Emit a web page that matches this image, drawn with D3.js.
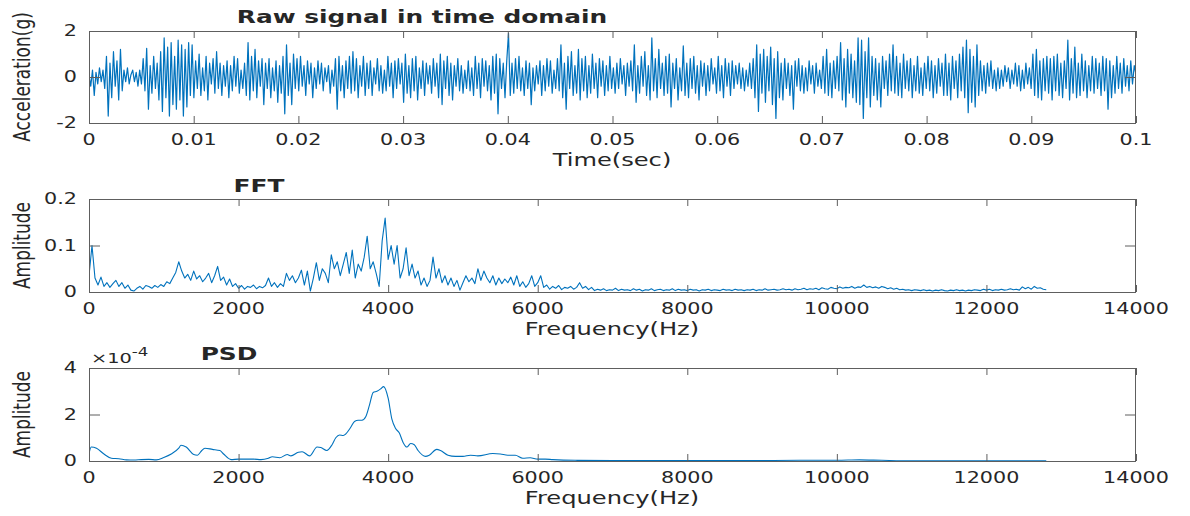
<!DOCTYPE html>
<html>
<head>
<meta charset="utf-8">
<script src="https://cdn.jsdelivr.net/npm/d3@7"></script>
<style>
  body { margin: 0; background: #fff; }
  svg { display: block; }
  text { font-family: "DejaVu Sans", sans-serif; fill: #262626; }
</style>
</head>
<body>
<svg id="chart" width="1190" height="516"></svg>
<script>
// ---- Raw acceleration signal, 0 .. 0.1 s (g) ----
const rawDuration = 0.1;
const rawSignal = [
  0.1,-0.4,0.3,-0.8,0.2,-0.3,0.4,-0.2,0.3,-0.5,
  0.9,-1.7,0.6,-0.9,1.1,-0.4,0.7,-1.0,1.2,-0.6,
  0.3,-0.2,0.4,-0.3,0.1,0.3,-0.2,0.2,-0.4,0.3,
  -0.3,0.8,-0.6,1.25,-1.4,0.5,-0.7,0.9,-0.5,0.6,
  -1.0,1.1,-1.5,1.7,-0.9,1.3,-1.7,1.5,-1.2,0.9,
  -1.4,1.6,-1.0,1.4,-1.7,1.2,-1.3,1.5,-0.8,1.4,
  -0.9,0.7,-0.5,1.0,-0.8,0.4,-0.6,0.9,-1.0,0.6,
  -0.3,0.8,-0.7,1.1,-0.5,0.6,-0.8,0.5,-0.4,0.7,
  -0.9,0.5,-0.6,0.9,-0.4,0.8,-0.7,0.3,-0.5,0.6,
  -0.8,1.5,-1.0,0.9,-0.6,1.2,-0.9,0.7,-0.4,0.8,
  -1.2,0.6,-0.5,0.8,-0.9,0.4,-0.6,0.7,-1.1,0.5,
  -0.7,0.9,-1.6,1.4,-0.8,0.6,-1.2,1.0,-0.5,0.8,
  -0.6,0.9,-0.4,0.5,-0.8,0.7,-0.3,0.6,-0.9,0.4,
  -0.5,0.7,-0.3,0.6,-0.6,0.4,-0.2,0.5,-0.7,0.3,
  -0.4,0.8,-1.4,0.9,-0.6,0.5,-0.9,0.7,-0.5,0.9,
  -0.7,1.1,-0.6,0.8,-0.9,0.5,-0.4,0.9,-0.8,0.6,
  -0.5,0.7,-0.8,0.4,-0.3,0.8,-0.6,0.5,-0.7,0.3,
  -0.6,0.9,-0.4,0.6,-0.9,0.7,-0.5,0.8,-0.3,0.6,
  -1.1,1.0,-0.7,0.5,-0.9,0.8,-0.6,0.9,-1.0,0.4,
  -0.5,0.7,-0.8,0.6,-0.3,0.5,-0.7,0.8,-0.4,0.6,
  -0.9,1.0,-1.2,0.7,-0.5,0.9,-0.8,0.6,-1.0,0.5,
  -0.4,0.8,-0.6,0.5,-0.7,0.3,-0.5,0.7,-0.6,0.4,
  -0.8,0.9,-0.5,0.6,-0.9,0.8,-0.4,0.7,-0.6,0.5,
  -1.0,0.9,-0.7,1.0,-1.6,0.8,-0.5,0.6,-0.9,0.7,
  1.9,-0.8,0.6,-0.7,0.8,-0.5,0.9,-0.6,0.4,-0.8,
  0.7,-0.5,0.6,-1.2,0.4,-0.6,0.5,-0.3,0.7,-0.8,
  0.5,-0.6,0.8,-0.4,0.7,-0.7,0.3,-0.5,0.8,-0.6,
  1.4,-0.9,0.6,-1.4,0.9,-0.5,1.1,-0.8,0.5,-0.7,
  1.2,-1.0,0.8,-0.6,0.9,-0.9,0.5,-0.7,1.0,-0.5,
  0.6,-0.9,0.8,-0.4,0.7,-0.8,0.5,-0.6,0.9,-0.5,
  0.4,-0.7,0.6,-0.5,0.8,-0.3,0.5,-0.8,0.6,-0.4,
  0.7,-0.6,1.4,-1.1,0.5,-0.7,0.9,-0.4,1.1,-0.8,
  0.5,-1.0,1.7,-0.6,0.8,-0.9,1.2,-0.5,0.6,-0.8,
  0.9,-0.7,1.0,-1.3,0.6,-0.5,0.8,-1.0,0.4,-0.6,
  1.35,-0.8,0.6,-0.9,0.8,-0.5,0.9,-0.7,0.5,-1.0,
  0.7,-0.4,0.6,-0.8,0.5,-0.6,0.8,-0.3,0.4,-0.7,
  0.9,-0.6,0.5,-0.9,0.8,-0.4,0.6,-0.8,0.7,-0.5,
  0.5,-0.3,0.6,-0.5,0.4,-0.6,0.3,-0.4,0.6,-0.5,
  0.8,-0.9,1.4,-1.5,1.0,-0.7,1.2,-1.1,0.9,-0.6,
  1.3,-1.2,0.8,-1.8,1.1,-0.9,0.6,-1.0,0.8,-0.5,
  0.6,-0.8,0.5,-1.4,0.7,-0.4,0.8,-0.6,0.5,-0.7,
  0.4,-0.6,0.7,-0.3,0.5,-0.7,0.6,-0.4,0.3,-0.5,
  0.9,-0.7,1.2,-0.8,0.6,-0.9,0.7,-0.5,0.9,-0.6,
  1.5,-1.0,0.8,-1.3,1.2,-0.7,1.0,-0.9,0.7,-1.1,
  1.7,-1.2,1.6,-1.8,1.1,-0.9,1.7,-1.3,0.9,-0.8,
  0.8,-1.0,0.6,-1.3,0.9,-0.5,0.7,-0.8,1.0,-0.6,
  1.4,-0.7,0.9,-0.8,0.6,-0.9,1.0,-0.5,0.7,-0.6,
  0.8,-0.9,0.5,-0.6,0.9,-0.7,0.4,-0.8,0.6,-0.5,
  0.9,-0.6,0.7,-0.9,0.5,-0.7,0.8,-0.4,0.6,-0.8,
  1.0,-0.8,0.6,-1.0,0.9,-0.5,0.7,-0.9,1.0,-0.6,
  1.3,-0.9,1.6,-1.55,1.2,-1.1,0.9,-1.3,1.4,-0.8,
  0.7,-0.6,0.5,-0.7,0.6,-0.4,0.7,-0.5,0.3,-0.6,
  0.4,-0.5,0.3,-0.4,0.5,-0.2,0.4,-0.5,0.3,-0.3,
  0.6,-0.4,0.5,-0.6,0.3,-0.5,0.6,-0.3,0.4,-0.5,
  1.0,-0.8,1.2,-0.9,0.7,-1.0,0.8,-0.6,0.9,-0.7,
  0.8,-1.0,0.9,-0.6,1.0,-0.8,0.6,-0.9,0.7,-0.5,
  1.6,-1.0,0.8,-0.7,1.3,-0.9,0.6,-0.8,1.0,-0.6,
  0.7,-0.9,0.5,-0.6,0.9,-0.7,0.8,-0.5,0.6,-0.8,
  0.9,-0.6,0.8,-1.4,0.7,-0.9,0.5,-0.7,0.9,-0.5,
  0.6,-0.7,0.8,-0.4,0.5,-0.6,0.7,-0.3,0.5,0.1
];

// ---- Single-sided FFT amplitude, 40 Hz bins from 0 to 12800 Hz ----
const fftBinHz = 40;
const fftAmplitude = [
  0.035,0.1,0.03,0.015,0.032,0.012,0.02,0.01,0.018,0.025,0.012,0.02,0.008,0.015,0.004,0.002,0.008,0.012,0.006,0.014,
  0.012,0.008,0.014,0.01,0.016,0.012,0.022,0.018,0.03,0.042,0.065,0.045,0.03,0.038,0.025,0.045,0.028,0.035,0.022,0.03,
  0.04,0.02,0.035,0.055,0.025,0.032,0.015,0.028,0.012,0.018,0.008,0.014,0.006,0.012,0.01,0.015,0.007,0.012,0.009,0.014,
  0.03,0.012,0.02,0.01,0.018,0.012,0.04,0.025,0.035,0.02,0.03,0.047,0.015,0.045,0.002,0.03,0.063,0.025,0.05,0.04,
  0.02,0.08,0.05,0.065,0.035,0.06,0.085,0.04,0.09,0.03,0.06,0.045,0.075,0.12,0.05,0.065,0.04,0.012,0.11,0.159,
  0.07,0.1,0.06,0.1,0.03,0.05,0.095,0.035,0.06,0.03,0.045,0.015,0.03,0.012,0.025,0.075,0.03,0.05,0.02,0.035,
  0.015,0.03,0.012,0.025,0.004,0.02,0.035,0.022,0.03,0.018,0.05,0.025,0.045,0.03,0.02,0.035,0.015,0.03,0.018,0.028,
  0.02,0.032,0.015,0.035,0.012,0.022,0.01,0.018,0.035,0.012,0.02,0.035,0.01,0.015,0.006,0.012,0.008,0.014,0.005,0.01,
  0.008,0.012,0.006,0.01,0.02,0.008,0.012,0.005,0.01,0.003,0.006,0.004,0.007,0.003,0.005,0.004,0.008,0.003,0.006,0.004,
  0.005,0.003,0.007,0.004,0.006,0.002,0.005,0.004,0.007,0.003,0.005,0.006,0.003,0.005,0.004,0.007,0.003,0.006,0.004,0.005,
  0.003,0.006,0.004,0.005,0.002,0.005,0.004,0.006,0.003,0.005,0.004,0.003,0.006,0.004,0.005,0.003,0.006,0.004,0.005,0.003,
  0.005,0.004,0.006,0.003,0.005,0.004,0.007,0.004,0.005,0.006,0.004,0.005,0.007,0.005,0.006,0.004,0.007,0.005,0.006,0.008,
  0.005,0.007,0.006,0.008,0.005,0.009,0.007,0.006,0.01,0.008,0.007,0.011,0.008,0.01,0.009,0.012,0.008,0.011,0.01,0.015,
  0.01,0.012,0.009,0.011,0.008,0.012,0.01,0.007,0.009,0.006,0.008,0.005,0.006,0.004,0.005,0.003,0.005,0.004,0.003,0.005,
  0.003,0.004,0.002,0.004,0.003,0.005,0.003,0.002,0.004,0.003,0.005,0.003,0.004,0.002,0.004,0.003,0.005,0.004,0.003,0.006,
  0.004,0.006,0.003,0.005,0.004,0.006,0.004,0.005,0.007,0.005,0.006,0.004,0.011,0.007,0.01,0.006,0.012,0.008,0.009,0.006,
  0.005
];

// ---- Power spectral density (Welch estimate) ----
const psdFreq = [
  0,30,100,200,300,400,500,600,700,800,
  900,1000,1100,1200,1230,1300,1400,1450,1500,1550,
  1650,1750,1800,1900,2000,2200,2300,2400,2450,2550,
  2650,2700,2800,2850,2950,3050,3100,3180,3250,3300,
  3350,3400,3500,3550,3600,3650,3700,3750,3800,3850,
  3900,3940,4000,4050,4100,4150,4200,4250,4300,4350,
  4400,4500,4550,4650,4700,4800,4900,5000,5100,5200,
  5400,5500,5600,5700,5800,5900,6000,6100,6200,6500,
  7000,8000,9000,9500,10000,10300,10600,11000,12000,12500,
  12800
];
const psdValue = [
  0.32e-4,0.6e-4,0.55e-4,0.3e-4,0.12e-4,0.1e-4,0.05e-4,0.04e-4,0.06e-4,0.07e-4,
  0.05e-4,0.15e-4,0.3e-4,0.55e-4,0.68e-4,0.6e-4,0.28e-4,0.25e-4,0.42e-4,0.55e-4,
  0.5e-4,0.45e-4,0.3e-4,0.06e-4,0.08e-4,0.08e-4,0.06e-4,0.12e-4,0.18e-4,0.14e-4,
  0.28e-4,0.22e-4,0.38e-4,0.4e-4,0.22e-4,0.6e-4,0.58e-4,0.45e-4,0.7e-4,1.0e-4,
  1.12e-4,1.1e-4,1.45e-4,1.7e-4,1.75e-4,1.75e-4,1.9e-4,2.4e-4,2.95e-4,3.0e-4,
  3.1e-4,3.2e-4,2.7e-4,1.8e-4,1.4e-4,1.2e-4,0.8e-4,0.6e-4,0.75e-4,0.7e-4,
  0.45e-4,0.2e-4,0.25e-4,0.5e-4,0.45e-4,0.25e-4,0.2e-4,0.2e-4,0.25e-4,0.22e-4,
  0.32e-4,0.3e-4,0.25e-4,0.25e-4,0.12e-4,0.14e-4,0.08e-4,0.08e-4,0.06e-4,0.03e-4,
  0.02e-4,0.02e-4,0.02e-4,0.03e-4,0.03e-4,0.05e-4,0.03e-4,0.01e-4,0.01e-4,0.01e-4,
  0.005e-4
];

// ---- Tick values ----
const timeTicks = [0,0.01,0.02,0.03,0.04,0.05,0.06,0.07,0.08,0.09,0.1];
const freqTicks = [0,2000,4000,6000,8000,10000,12000,14000];
const accelTicks = [-2,0,2];
const fftTicks = [0,0.1,0.2];
const psdTicks = [0,2e-4,4e-4];

// ---- Layout ----
const svg = d3.select("#chart");
const LEFT = 89, RIGHT = 1136;
const SX = 1.38;          // horizontal stretch of the exported figure text
const LINE = "#0072BD";
const AXIS = "#5e5e5e";

function hText(g, x, y, str, size, anchor, weight) {
  return g.append("text")
    .attr("transform", `translate(${x},${y}) scale(${SX},1)`)
    .attr("text-anchor", anchor || "middle")
    .attr("dominant-baseline", "central")
    .style("font-size", size + "px")
    .style("font-weight", weight || "normal")
    .text(str);
}
function vText(g, x, y, str, size) {
  return g.append("text")
    .attr("transform", `translate(${x},${y}) rotate(-90) scale(1,${SX})`)
    .attr("text-anchor", "middle")
    .attr("dominant-baseline", "central")
    .style("font-size", size + "px")
    .text(str);
}

function panel(cfg) {
  const x = d3.scaleLinear().domain(cfg.xDomain).range([LEFT, RIGHT]);
  const y = d3.scaleLinear().domain(cfg.yDomain).range([cfg.bottom, cfg.top]);
  const g = svg.append("g");

  const clipId = "clip" + cfg.id;
  g.append("clipPath").attr("id", clipId).append("rect")
    .attr("x", LEFT).attr("y", cfg.top - 1)
    .attr("width", RIGHT - LEFT).attr("height", cfg.bottom - cfg.top + 2);

  // data line
  g.append("path")
    .datum(cfg.data)
    .attr("clip-path", `url(#${clipId})`)
    .attr("fill", "none")
    .attr("stroke", LINE)
    .attr("stroke-width", cfg.lineWidth)
    .attr("stroke-linejoin", "round")
    .attr("d", d3.line().x(d => x(d[0])).y(d => y(d[1])).curve(cfg.curve || d3.curveLinear));

  // tick marks on all four sides (inward)
  const axG = g.append("g").attr("class", "ticks");
  const styleAxis = s => {
    s.select(".domain").remove();
    s.selectAll("line").attr("stroke", AXIS).attr("stroke-width", 1);
    s.selectAll("text").remove();
  };
  axG.append("g").attr("transform", `translate(0,${cfg.bottom})`)
    .call(d3.axisBottom(x).tickValues(cfg.xTicks).tickSizeInner(-7).tickSizeOuter(0)).call(styleAxis);
  axG.append("g").attr("transform", `translate(0,${cfg.top})`)
    .call(d3.axisTop(x).tickValues(cfg.xTicks).tickSizeInner(-7).tickSizeOuter(0)).call(styleAxis);
  axG.append("g").attr("transform", `translate(${LEFT},0)`)
    .call(d3.axisLeft(y).tickValues(cfg.yTicks).tickSizeInner(-11).tickSizeOuter(0)).call(styleAxis);
  axG.append("g").attr("transform", `translate(${RIGHT},0)`)
    .call(d3.axisRight(y).tickValues(cfg.yTicks).tickSizeInner(-11).tickSizeOuter(0)).call(styleAxis);

  // box
  g.append("rect")
    .attr("x", LEFT + 0.5).attr("y", cfg.top + 0.5)
    .attr("width", RIGHT - LEFT - 1).attr("height", cfg.bottom - cfg.top)
    .attr("fill", "none").attr("stroke", AXIS).attr("stroke-width", 1);

  // tick labels
  cfg.xTicks.forEach(v => hText(g, x(v), cfg.bottom + 17, cfg.xFmt(v), 15));
  cfg.yTicks.forEach(v => hText(g, 77, y(v), cfg.yFmt(v), 15, "end"));

  // titles and axis labels
  hText(g, cfg.titleX, cfg.titleY, cfg.title, 18, "middle", "bold");
  hText(g, 612, cfg.bottom + 37, cfg.xLabel, 17.5);
  vText(g, 22, (cfg.top + cfg.bottom) / 2, cfg.yLabel, 17);
  return { g, x, y };
}

const fmtPlain = v => String(v);

// Raw signal panel
panel({
  id: 1, top: 31, bottom: 123,
  xDomain: [0, rawDuration], yDomain: [-2, 2],
  xTicks: timeTicks, yTicks: accelTicks,
  xFmt: fmtPlain, yFmt: fmtPlain,
  data: rawSignal.map((v, i) => [i * rawDuration / (rawSignal.length - 1), v]),
  lineWidth: 1.2,
  title: "Raw signal in time domain", titleX: 422, titleY: 17,
  xLabel: "Time(sec)", yLabel: "Acceleration(g)"
});

// FFT panel
panel({
  id: 2, top: 199, bottom: 292,
  xDomain: [0, 14000], yDomain: [0, 0.2],
  xTicks: freqTicks, yTicks: fftTicks,
  xFmt: fmtPlain, yFmt: fmtPlain,
  data: fftAmplitude.map((v, i) => [i * fftBinHz, v]),
  lineWidth: 1.1,
  title: "FFT", titleX: 259, titleY: 186,
  xLabel: "Frequency(Hz)", yLabel: "Amplitude"
});

// PSD panel
const psdPanel = panel({
  id: 3, top: 368, bottom: 461,
  xDomain: [0, 14000], yDomain: [0, 4e-4],
  xTicks: freqTicks, yTicks: psdTicks,
  xFmt: fmtPlain, yFmt: v => String(Math.round(v * 1e4)),
  data: psdFreq.map((f, i) => [f, psdValue[i]]),
  lineWidth: 1.1, curve: d3.curveMonotoneX,
  title: "PSD", titleX: 229, titleY: 354,
  xLabel: "Frequency(Hz)", yLabel: "Amplitude"
});

// exponent label for the PSD y axis
const expo = psdPanel.g.append("text")
  .attr("transform", `translate(91,358) scale(${SX},1)`)
  .attr("dominant-baseline", "central")
  .style("font-size", "14px");
expo.append("tspan").text("\u00d710");
expo.append("tspan").attr("dy", -6).style("font-size", "12px").text("-4");
</script>
</body>
</html>
